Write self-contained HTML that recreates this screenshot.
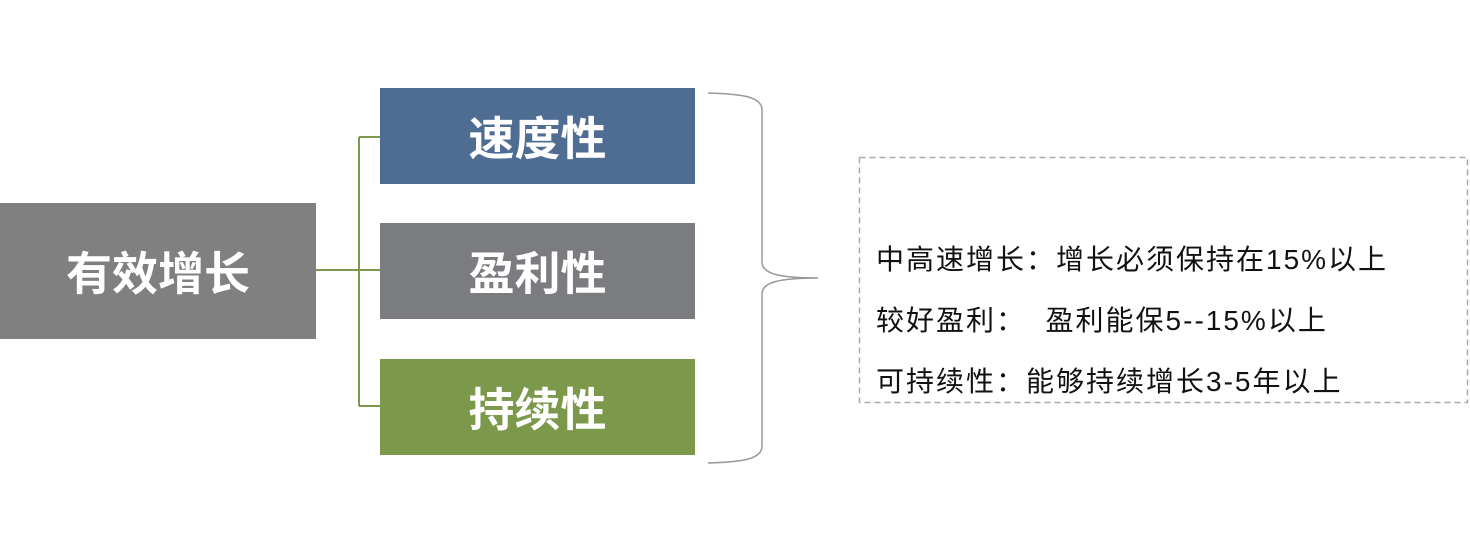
<!DOCTYPE html>
<html><head><meta charset="utf-8"><style>
body{margin:0;width:1470px;height:543px;background:#fff;position:relative;overflow:hidden;font-family:"Liberation Sans","Noto Sans CJK SC",sans-serif}
.b{position:absolute;color:#fff;font-weight:bold;font-size:46px;display:flex;align-items:center;justify-content:center}
.t{position:absolute;left:876px;font-size:28px;letter-spacing:2px;color:#111;white-space:pre;line-height:30px}
</style></head><body>
<div class="b" style="left:0;top:203px;width:316px;height:136px;background:#808080">有效增长</div>
<div class="b" style="left:380px;top:88px;width:315px;height:96px;background:#4f6d93">速度性</div>
<div class="b" style="left:380px;top:223px;width:315px;height:96px;background:#7b7c80">盈利性</div>
<div class="b" style="left:380px;top:359px;width:315px;height:96px;background:#7b984b">持续性</div>
<svg width="1470" height="543" style="position:absolute;left:0;top:0">
<g stroke="#7b984b" stroke-width="2" fill="none">
<path d="M316 270H380M359 137V406M359 137H380M359 406H380"/>
</g>
<path d="M708 93 C740 94 762 96 762 110 V262 C762 274 780 278 818 278 C780 278 762 282 762 294 V446 C762 460 740 462 708 463" stroke="#999" stroke-width="1.5" fill="none"/>
<rect x="859.5" y="157.5" width="608" height="245" fill="none" stroke="#aaa" stroke-width="1.5" stroke-dasharray="6,4"/>
</svg>
<div class="t" style="top:245px">中高速增长：增长必须保持在15%以上</div>
<div class="t" style="top:306px">较好盈利：  盈利能保5--15%以上</div>
<div class="t" style="top:367px">可持续性：能够持续增长3-5年以上</div>
</body></html>
